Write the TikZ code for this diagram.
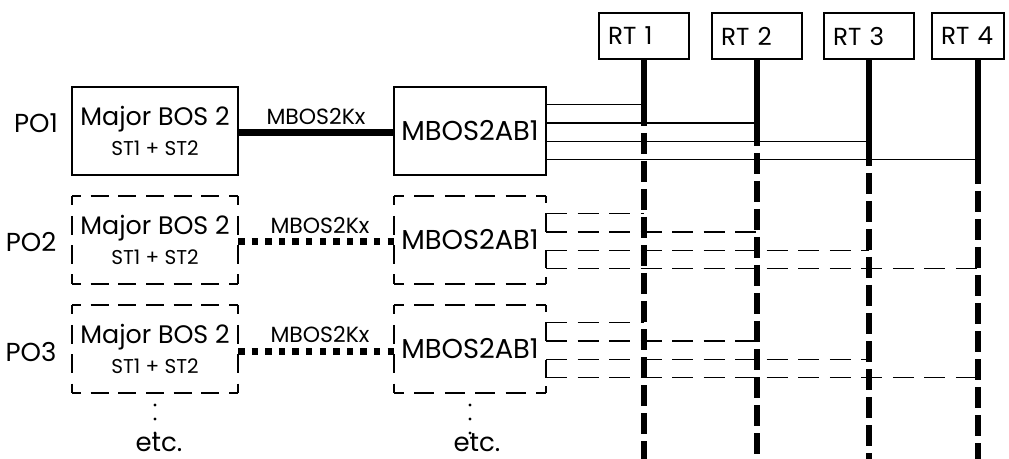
\documentclass[tikz,border=0pt]{standalone}
\usepackage{fontspec}
\setmainfont{Poppins}
\usetikzlibrary{calc}
\newcommand\stfontx{\fontsize{15}{16}\selectfont}
\begin{document}
\begin{tikzpicture}[x=0.75pt,y=-0.75pt,
  every node/.style={inner sep=0pt, outer sep=0pt},
  pof/.style={font=\fontsize{19.5}{21}\selectfont},
  majf/.style={font=\fontsize{19}{21}\selectfont},
  mbf/.style={font=\fontsize{20.5}{22}\selectfont},
  lblf/.style={font=\fontsize{16.5}{18}\selectfont},
  etcf/.style={font=\fontsize{19.5}{21}\selectfont},
  rtbox/.style={draw, line width=1.1pt, minimum height=34.5pt, text width=54pt,
    inner xsep=6.75pt, align=left, font=\fontsize{18.5}{20}\selectfont},
  majbox/.style={minimum width=124.5pt, minimum height=66pt, align=center, majf},
  mbbox/.style={minimum width=114pt, minimum height=66pt, mbf},
  solidbox/.style={draw, line width=1.1pt},
  dH/.style={line width=1.1pt, dash pattern=on 13.5pt off 7.25pt, dash phase=6.75pt},
  dV/.style={line width=1.1pt, dash pattern=on 14.25pt off 7.75pt, dash phase=7.125pt},
  dHm/.style={line width=1.1pt, dash pattern=on 15pt off 7.8pt, dash phase=7.5pt},
  thinl/.style={line width=1.1pt},
  dashl/.style={line width=1.1pt, dash pattern=on 15.75pt off 7.9pt},
  bus/.style={line width=4.5pt},
  busd/.style={line width=4.5pt, dash pattern=on 15.75pt off 5.25pt},
  fatlink/.style={line width=5.25pt},
  dotlink/.style={line width=5.25pt, dash pattern=on 4.875pt off 5.32pt},
  etcdots/.style={line width=2.6pt, line cap=round, dash pattern=on 0pt off 10.5pt, dash phase=1.5pt}
]
\useasboundingbox (0,0) rectangle (1009,459);

% RT boxes
\node[rtbox] (rt1) at (644,36) {RT 1};
\node[rtbox] (rt2) at (757,36) {RT 2};
\node[rtbox] (rt3) at (869,36) {RT 3};
\node[rtbox, text width=40.5pt] (rt4) at (968,36) {RT 4};
\coordinate (b1) at (rt1.south);
\coordinate (b2) at (rt2.south);
\coordinate (b3) at (rt3.south);
\coordinate (b4) at ($(rt4.south west)+(46,0)$);

% PO labels
\node[pof] (po1) at (36,123) {PO1};
\node[pof] (po2) at (31,242) {PO2};
\node[pof] (po3) at (31,352) {PO3};

% boxes
\node[majbox, solidbox] (m1) at (155,131) {Major BOS 2\\[1pt]{\stfontx ST1 + ST2}};
\node[mbbox, solidbox] (a1) at (470,131) {MBOS2AB1};
\node[majbox] (m2) at (155,240) {Major BOS 2\\[1pt]{\stfontx ST1 + ST2}};
\node[mbbox] (a2) at (470,240) {MBOS2AB1};
\node[majbox] (m3) at (155,349) {Major BOS 2\\[1pt]{\stfontx ST1 + ST2}};
\node[mbbox] (a3) at (470,349) {MBOS2AB1};

% dashed box outlines
\foreach \n in {m2,m3} {
  \draw[dH] (\n.north west) -- (\n.north east);
  \draw[dH] (\n.south west) -- (\n.south east);
  \draw[dV] (\n.north west) -- (\n.south west);
  \draw[dV] (\n.north east) -- (\n.south east);
}
\foreach \n in {a2,a3} {
  \draw[dHm] (\n.north west) -- (\n.north east);
  \draw[dHm] (\n.south west) -- (\n.south east);
  \draw[dV] (\n.north west) -- (\n.south west);
  \draw[thinl] (\n.north east) -- ++(0,7)
    ($(\n.north east)+(0,17.5)$) -- ++(0,18.5)
    ($(\n.north east)+(0,54.5)$) -- ++(0,18)
    ($(\n.south east)+(0,-7)$) -- (\n.south east);
}

% links between boxes
\draw[fatlink] ($(m1.east)+(0,2)$) -- ($(a1.west)+(0,2)$);
\draw[dotlink] ($(m2.east)+(0,2)$) -- ($(a2.west)+(0,2)$);
\draw[dotlink] ($(m3.east)+(0,2)$) -- ($(a3.west)+(0,2)$);
\node[lblf] (k1) at ($(m1.east)!0.5!(a1.west)+(0,-15)$) {MBOS2Kx};
\node[lblf] (k2) at ($(m2.east)!0.5!(a2.west)+(4,-15)$) {MBOS2Kx};
\node[lblf] (k3) at ($(m3.east)!0.5!(a3.west)+(4,-15)$) {MBOS2Kx};

% line start points
\foreach \r in {1,2,3} {
  \foreach \k/\dy in {1/-26.5,2/-8,3/10.5,4/28.5} {
    \coordinate (l\r\k) at ($(a\r.east)+(0,\dy)$);
  }
}
% row 1 solid lines
\foreach \k in {1,2,3,4} {
  \draw[thinl] (l1\k) -- (l1\k -| b\k);
}
% rows 2,3 dashed lines
\foreach \r in {2,3} {
  \foreach \k in {1,2,3,4} {
    \draw[dashl] (l\r\k) -- (l\r\k -| b\k);
  }
}

% buses
\foreach \k/\e in {1/126,2/146,3/166,4/184} {
  \coordinate (e\k) at (b\k |- 0,\e);
  \coordinate (f\k) at ($(e\k)+(0,7)$);
  \coordinate (z\k) at (b\k |- 0,465);
  \draw[bus] (b\k) -- (e\k);
  \draw[busd] (f\k) -- (z\k);
}

% etc.
\node[etcf] (etc1) at (159,443) {etc.};
\node[etcf] (etc2) at (477,443) {etc.};
\draw[etcdots] (m3.south) -- (m3.south |- etc1.north);
\draw[etcdots] (a3.south) -- (a3.south |- etc2.north);
\end{tikzpicture}
\end{document}
